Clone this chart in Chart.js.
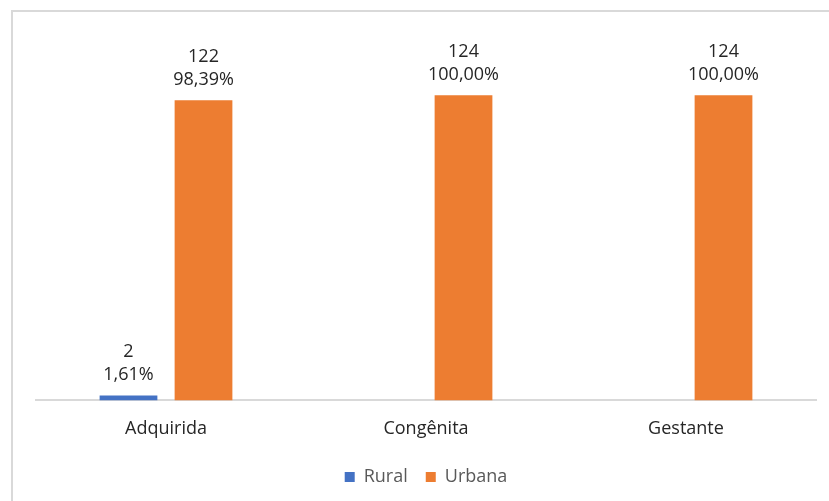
<!DOCTYPE html>
<html>
<head>
<meta charset="utf-8">
<script src="https://cdn.jsdelivr.net/npm/chart.js@4.4.0/dist/chart.umd.min.js"></script>
<style>
    html, body { margin: 0; padding: 0; background: #ffffff; }
    #frame {
        position: absolute; left: 11px; top: 10px; width: 900px; height: 600px;
        border-left: 2px solid #d9d9d9; border-top: 2px solid #d9d9d9;
    }
    #wrap { position: absolute; left: 0; top: 0; width: 829px; height: 501px; }
</style>
</head>
<body>
<div id="frame"></div>
<div id="wrap"><canvas id="chart"></canvas></div>
<script>
const categories = ['Adquirida', 'Congênita', 'Gestante'];
const ruralValues = [2, 0, 0];
const urbanaValues = [122, 124, 124];

const FONT = '"Open Sans", Lato, sans-serif';

// Two-line labels above each bar: count and share of the category total
const barLabels = {
    id: 'barLabels',
    afterDatasetsDraw(chart) {
        const ctx = chart.ctx;
        ctx.save();
        ctx.font = `18px ${FONT}`;
        ctx.fillStyle = '#262626';
        ctx.textAlign = 'center';
        ctx.textBaseline = 'alphabetic';
        chart.data.datasets.forEach((ds, di) => {
            const meta = chart.getDatasetMeta(di);
            meta.data.forEach((bar, i) => {
                const v = ds.data[i];
                if (!v) return;
                const total = chart.data.datasets.reduce((s, d) => s + d.data[i], 0);
                const pct = (v / total * 100).toFixed(2).replace('.', ',') + '%';
                ctx.fillText(pct, bar.x, bar.y - 15);
                ctx.fillText(String(v), bar.x, bar.y - 38);
            });
        });
        ctx.restore();
    }
};

new Chart(document.getElementById('chart'), {
    type: 'bar',
    data: {
        labels: categories,
        datasets: [
            { label: 'Rural', data: ruralValues, backgroundColor: '#4472c4' },
            { label: 'Urbana', data: urbanaValues, backgroundColor: '#ed7d31' }
        ]
    },
    options: {
        responsive: true,
        maintainAspectRatio: false,
        animation: false,
        categoryPercentage: 0.577,
        barPercentage: 0.77,
        layout: { padding: { left: 36, right: 13, top: 56, bottom: 5 } },
        scales: {
            x: {
                grid: { display: false },
                border: { display: true, color: '#d9d9d9', width: 2 },
                ticks: { color: '#262626', font: { family: FONT, size: 18 }, padding: 10 }
            },
            y: { display: false, min: 0, max: 140 }
        },
        plugins: {
            legend: {
                position: 'bottom',
                labels: {
                    color: '#595959',
                    font: { family: FONT, size: 18 },
                    boxWidth: 10, boxHeight: 10, padding: 18
                }
            },
            tooltip: { enabled: false }
        }
    },
    plugins: [barLabels]
});
</script>
</body>
</html>
